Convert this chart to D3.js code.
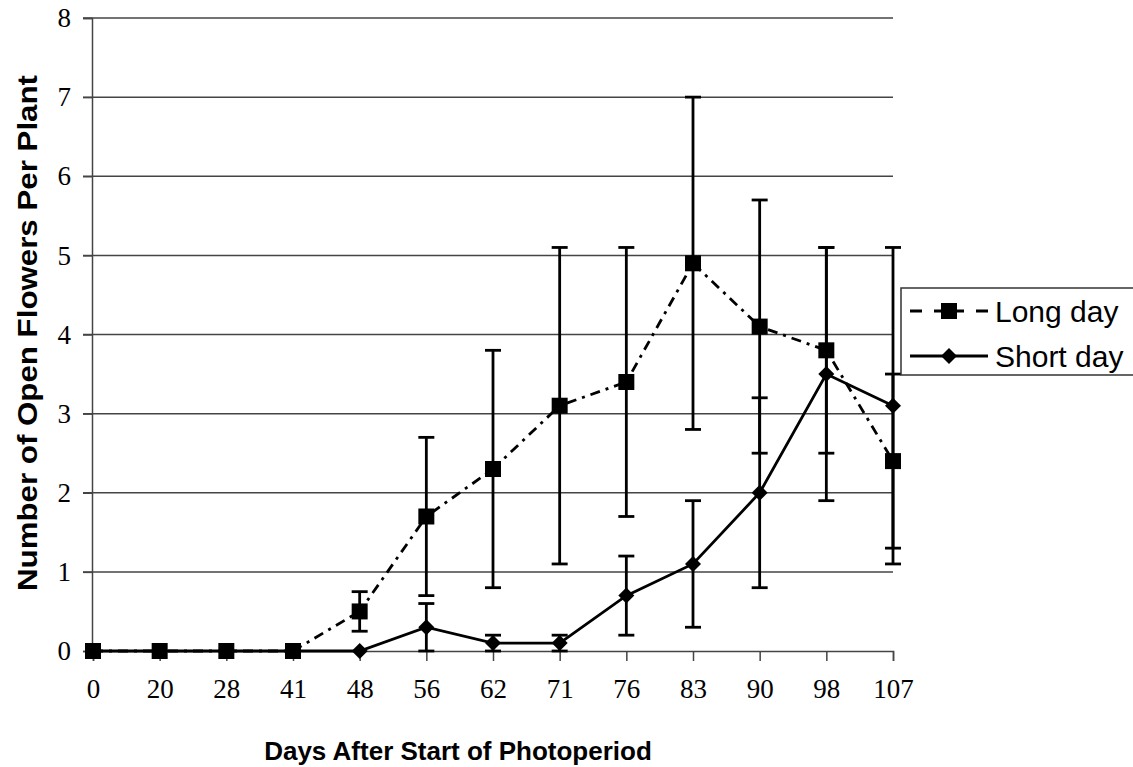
<!DOCTYPE html>
<html>
    <head>
        <title>Open flowers per plant</title>
        <script src="https://d3js.org/d3.v7.min.js"></script>
        <style>
        body { margin: 0; background: white; }
        .tickLabel { font-family: "Liberation Serif", "Times New Roman", serif; font-size: 27px; fill: black; }
        .axisTitle { font-family: "Liberation Sans", Arial, sans-serif; font-weight: bold; fill: black; }
        .legendText { font-family: "Liberation Sans", Arial, sans-serif; font-size: 30px; fill: black; }
        </style>
    </head>
    <body>
        <div id="chart"></div>
        <script type="text/javascript">
        // data
        var days = ["0", "20", "28", "41", "48", "56", "62", "71", "76", "83", "90", "98", "107"];
        var longDay = [0, 0, 0, 0, 0.5, 1.7, 2.3, 3.1, 3.4, 4.9, 4.1, 3.8, 2.4];
        var longDayErr = [0, 0, 0, 0, 0.25, 1.0, 1.5, 2.0, 1.7, 2.1, 1.6, 1.3, 1.1];
        var shortDay = [0, 0, 0, 0, 0, 0.3, 0.1, 0.1, 0.7, 1.1, 2.0, 3.5, 3.1];
        var shortDayErr = [0, 0, 0, 0, 0, 0.3, 0.1, 0.1, 0.5, 0.8, 1.2, 1.6, 2.0];
        var yTicks = [0, 1, 2, 3, 4, 5, 6, 7, 8];

        var width = 1133, height = 767;
        var svg = d3.select("#chart")
                    .append("svg")
                    .attr("width", width)
                    .attr("height", height);

        var xScale = d3.scalePoint()
                       .domain(days)
                       .range([93, 893]);
        var yScale = d3.scaleLinear()
                       .domain([0, 8])
                       .range([651, 18]);

        // gridlines
        svg.selectAll(".grid")
           .data(yTicks.slice(1))
           .enter()
           .append("line")
           .attr("class", "grid")
           .attr("x1", 83)
           .attr("x2", 893)
           .attr("y1", function(d) { return yScale(d); })
           .attr("y2", function(d) { return yScale(d); })
           .attr("stroke", "#444")
           .attr("stroke-width", 1.5);

        // y axis
        var yAxis = svg.append("g")
           .attr("transform", "translate(92,0)")
           .call(d3.axisLeft(yScale).tickValues(yTicks).tickSize(9).tickPadding(12).tickFormat(d3.format("d")));
        yAxis.select(".domain").attr("stroke", "#444").attr("stroke-width", 1.5);
        yAxis.selectAll(".tick line").attr("stroke", "#444").attr("stroke-width", 1.5);
        yAxis.selectAll(".tick text").attr("class", "tickLabel");

        // x axis
        var xAxis = svg.append("g")
           .attr("transform", "translate(0,651)")
           .call(d3.axisBottom(xScale).tickSize(10).tickPadding(18));
        xAxis.select(".domain").attr("stroke", "#444").attr("stroke-width", 1.5);
        xAxis.selectAll(".tick line").attr("stroke", "#444").attr("stroke-width", 1.5);
        xAxis.selectAll(".tick text").attr("class", "tickLabel");
        yAxis.attr("font-size", null).attr("font-family", null);
        xAxis.attr("font-size", null).attr("font-family", null);

        // axis titles
        svg.append("text")
           .attr("class", "axisTitle")
           .attr("font-size", 26)
           .attr("text-anchor", "middle")
           .attr("x", 458)
           .attr("y", 760)
           .text("Days After Start of Photoperiod");
        svg.append("text")
           .attr("class", "axisTitle")
           .attr("font-size", 28)
           .attr("text-anchor", "middle")
           .attr("textLength", 516)
           .attr("lengthAdjust", "spacingAndGlyphs")
           .attr("transform", "translate(37,333)rotate(-90)")
           .text("Number of Open Flowers Per Plant");

        // error bars
        function errorBars(vals, errs) {
            var idx = d3.range(days.length).filter(function(i) { return errs[i] > 0; });
            var g = svg.append("g").attr("stroke", "black").attr("stroke-width", 2.8);
            g.selectAll("line.v").data(idx).enter().append("line")
             .attr("x1", function(i) { return xScale(days[i]); })
             .attr("x2", function(i) { return xScale(days[i]); })
             .attr("y1", function(i) { return yScale(vals[i] - errs[i]); })
             .attr("y2", function(i) { return yScale(vals[i] + errs[i]); });
            [-1, 1].forEach(function(s) {
                g.selectAll("line.c" + (s + 1)).data(idx).enter().append("line")
                 .attr("x1", function(i) { return xScale(days[i]) - 8; })
                 .attr("x2", function(i) { return xScale(days[i]) + 8; })
                 .attr("y1", function(i) { return yScale(vals[i] + s * errs[i]); })
                 .attr("y2", function(i) { return yScale(vals[i] + s * errs[i]); });
            });
        }
        errorBars(longDay, longDayErr);
        errorBars(shortDay, shortDayErr);

        var line = d3.line()
                     .x(function(d, i) { return xScale(days[i]); })
                     .y(function(d) { return yScale(d); });

        svg.append("path")
           .datum(longDay)
           .attr("d", line)
           .attr("fill", "none")
           .attr("stroke", "black")
           .attr("stroke-width", 2.8)
           .attr("stroke-dasharray", "10,6,3,6");
        svg.append("path")
           .datum(shortDay)
           .attr("d", line)
           .attr("fill", "none")
           .attr("stroke", "black")
           .attr("stroke-width", 2.8);

        // markers: filled square and a square turned 45 degrees
        var square = d3.symbol().type(d3.symbolSquare).size(256);
        var diamond = d3.symbol().type(d3.symbolSquare).size(128);
        svg.selectAll(".sq")
           .data(longDay)
           .enter()
           .append("path")
           .attr("class", "sq")
           .attr("d", square)
           .attr("transform", function(d, i) { return "translate(" + xScale(days[i]) + "," + yScale(d) + ")"; })
           .attr("fill", "black");
        svg.selectAll(".dm")
           .data(shortDay)
           .enter()
           .append("path")
           .attr("class", "dm")
           .attr("d", diamond)
           .attr("transform", function(d, i) { return "translate(" + xScale(days[i]) + "," + yScale(d) + ")rotate(45)"; })
           .attr("fill", "black");

        // legend
        var legend = svg.append("g");
        legend.append("rect")
              .attr("x", 901)
              .attr("y", 288)
              .attr("width", 260)
              .attr("height", 87)
              .attr("fill", "white")
              .attr("stroke", "#333")
              .attr("stroke-width", 1.5);
        legend.append("line")
              .attr("x1", 910).attr("x2", 988)
              .attr("y1", 311).attr("y2", 311)
              .attr("stroke", "black").attr("stroke-width", 2.8)
              .attr("stroke-dasharray", "12,12,30,12,12");
        legend.append("path")
              .attr("d", square)
              .attr("transform", "translate(949,311)")
              .attr("fill", "black");
        legend.append("text")
              .attr("class", "legendText")
              .attr("x", 995)
              .attr("y", 322)
              .text("Long day");
        legend.append("line")
              .attr("x1", 910).attr("x2", 988)
              .attr("y1", 356).attr("y2", 356)
              .attr("stroke", "black").attr("stroke-width", 2.8);
        legend.append("path")
              .attr("d", diamond)
              .attr("transform", "translate(949,356)rotate(45)")
              .attr("fill", "black");
        legend.append("text")
              .attr("class", "legendText")
              .attr("x", 995)
              .attr("y", 367)
              .text("Short day");
        </script>
    </body>
</html>
